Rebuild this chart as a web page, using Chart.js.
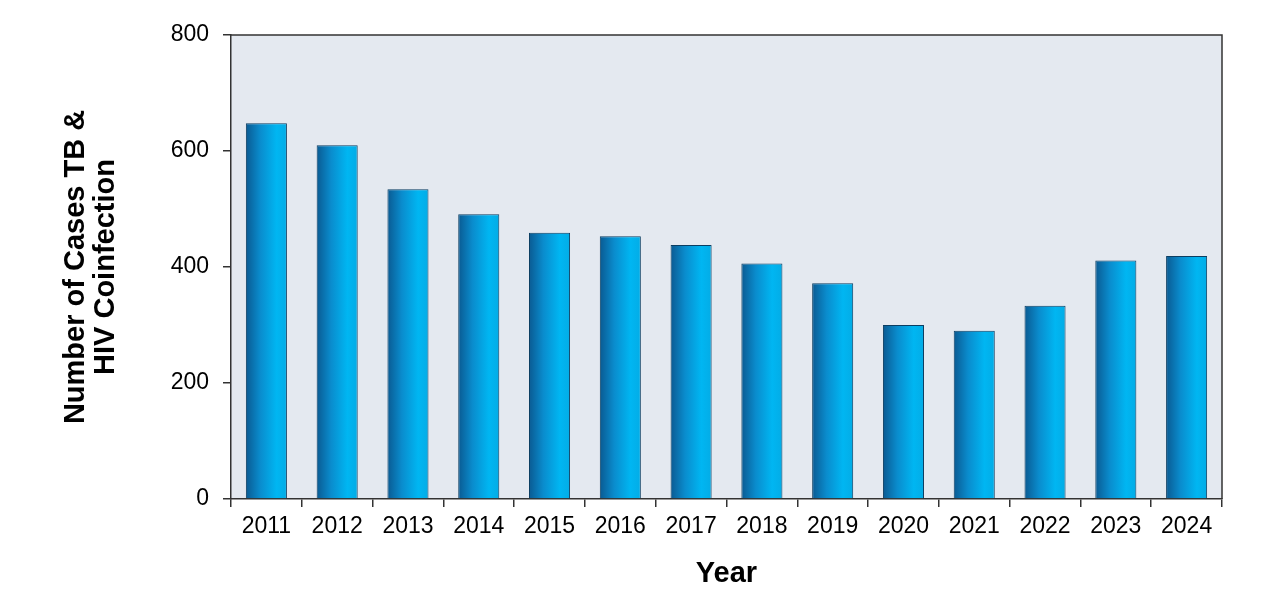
<!DOCTYPE html>
<html>
<head>
<meta charset="utf-8">
<script src="https://cdn.jsdelivr.net/npm/chart.js@4"></script>
<style>
  html, body { margin: 0; padding: 0; background: #ffffff; }
  #wrap { width: 1280px; height: 613px; }
</style>
</head>
<body>
<div id="wrap"><canvas id="tb-hiv-bar-chart"></canvas></div>
<script>
var years = ['2011', '2012', '2013', '2014', '2015', '2016', '2017', '2018', '2019', '2020', '2021', '2022', '2023', '2024'];
var cases = [648, 610, 534, 491, 459, 453, 438, 406, 372, 300, 290, 333, 411, 419];
var yTicks = [0, 200, 400, 600, 800];

var fontFamily = '"Liberation Sans", Arial, sans-serif';

// plot background and the frame on top / right
var plotFrame = {
    id: 'plotFrame',
    beforeDraw: function(chart) {
        var a = chart.chartArea, c = chart.ctx;
        c.save();
        c.fillStyle = '#e4e9f0';
        c.fillRect(a.left, a.top, a.right - a.left, a.bottom - a.top);
        c.restore();
    },
    afterDraw: function(chart) {
        var a = chart.chartArea, c = chart.ctx;
        c.save();
        c.strokeStyle = '#333333';
        c.lineWidth = 1.5;
        c.beginPath();
        c.moveTo(a.left, a.top);
        c.lineTo(a.right, a.top);
        c.lineTo(a.right, a.bottom);
        c.stroke();
        c.restore();
    }
};

function barGradient(ctx) {
    var chart = ctx.chart;
    var xs = chart.scales.x;
    if (!xs || !chart.chartArea || ctx.dataIndex === undefined) return '#0a9ad8';
    var cx = xs.getPixelForValue(ctx.dataIndex);
    var w = (xs.width / years.length) * 0.58;
    var g = chart.ctx.createLinearGradient(cx - w / 2, 0, cx + w / 2, 0);
    g.addColorStop(0, '#0a5a92');
    g.addColorStop(0.35, '#0a8ccd');
    g.addColorStop(0.75, '#00b6f2');
    g.addColorStop(1, '#03ace6');
    return g;
}

var bar_config = {
    type: 'bar',
    data: {
        labels: years,
        datasets: [{
            data: cases,
            backgroundColor: barGradient,
            borderColor: '#0b3e62',
            borderWidth: 1,
            categoryPercentage: 1.0,
            barPercentage: 0.58
        }]
    },
    options: {
        responsive: false,
        animation: false,
        layout: { padding: { top: 35, right: 58, left: 0, bottom: 0 } },
        plugins: {
            legend: { display: false },
            tooltip: { enabled: false }
        },
        scales: {
            x: {
                offset: true,
                grid: {
                    offset: true,
                    drawOnChartArea: false,
                    tickLength: 8,
                    color: '#333333',
                    lineWidth: 1.5
                },
                border: { color: '#333333', width: 1.5 },
                ticks: {
                    color: '#000000',
                    font: { family: fontFamily, size: 23 },
                    padding: 6,
                    maxRotation: 0
                },
                title: {
                    display: true,
                    text: 'Year',
                    color: '#000000',
                    font: { family: fontFamily, size: 29, weight: 'bold', lineHeight: 1.2 },
                    padding: { top: 0, bottom: 22 }
                },
                afterFit: function(scale) { scale.height = 114; }
            },
            y: {
                min: 0,
                max: 800,
                afterBuildTicks: function(scale) {
                    scale.ticks = yTicks.map(function(v) { return { value: v }; });
                },
                grid: {
                    drawOnChartArea: false,
                    tickLength: 8,
                    color: '#333333',
                    lineWidth: 1.5
                },
                border: { color: '#333333', width: 1.5 },
                ticks: {
                    color: '#000000',
                    font: { family: fontFamily, size: 23 },
                    padding: 14
                },
                title: {
                    display: true,
                    text: ['Number of Cases TB &', 'HIV Coinfection'],
                    color: '#000000',
                    font: { family: fontFamily, size: 29, weight: 'bold', lineHeight: 1.04 },
                    padding: { top: 61, bottom: 0 }
                },
                afterFit: function(scale) { scale.width = 231; }
            }
        }
    },
    plugins: [plotFrame]
};

window.onload = function() {
    var canvas = document.getElementById('tb-hiv-bar-chart');
    canvas.width = 1280;
    canvas.height = 613;
    var bar_ctx = canvas.getContext('2d');
    window.tbBar = new Chart(bar_ctx, bar_config);
};
</script>
</body>
</html>
